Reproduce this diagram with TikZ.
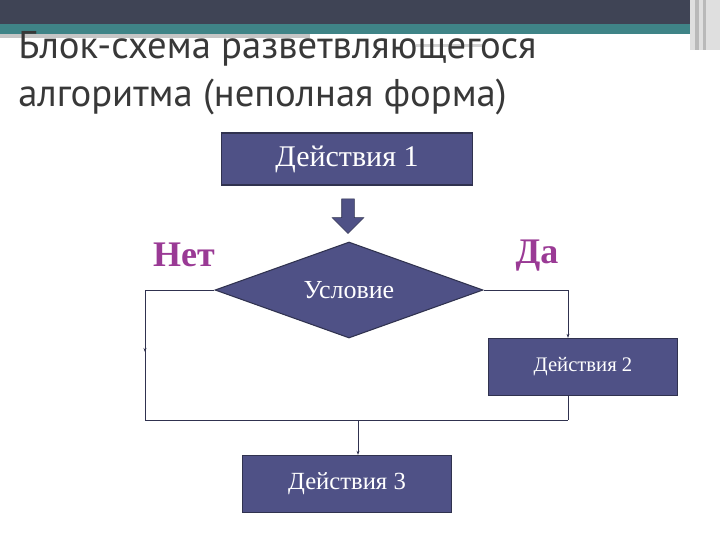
\documentclass[tikz,border=0pt]{standalone}
\usepackage{fontspec}
\setmainfont{Liberation Serif}
\newfontfamily\titlefont{PT Sans}
\usetikzlibrary{shapes.geometric,shapes.arrows,arrows.meta}
\definecolor{boxblue}{HTML}{4F5186}
\definecolor{boxedge}{HTML}{30324F}
\definecolor{lbl}{HTML}{9A3A95}
\definecolor{hdark}{HTML}{3F4455}
\definecolor{hteal}{HTML}{3F8487}
\begin{document}
\begin{tikzpicture}[x=0.75pt,y=-0.75pt]
		\useasboundingbox (0,0) rectangle (720,540);
		% header bands
		\fill[hdark] (0,0) rectangle (700,24);
		\fill[hteal] (0,24) rectangle (700,34);
		\fill[gray!45] (0,34) rectangle (310,38);
		\fill[gray!35] (416,44) rectangle (485,47);
		\fill[gray!25] (690,0) rectangle (720,50);
		\fill[gray!55] (695,0) rectangle (699,50);
		\fill[gray!55] (703,0) rectangle (706,50);
		\node (title)[anchor=north west, align=left, text=black!78, font=\titlefont\fontsize{29}{36}\selectfont, inner sep=0pt] at (18,31) {Блок-схема разветвляющегося\\алгоритма (неполная форма)};
		\begin{scope}[every node/.style={fill=boxblue, draw=boxedge, thick, text=white, inner sep=0pt}]
			\node (A1)[minimum width=188pt, minimum height=39pt, font=\fontsize{22.5}{26}\selectfont] at (347,159) {Действия 1};
			\node (C)[diamond, shape aspect=2.8, minimum width=201pt, minimum height=72pt, font=\fontsize{19.5}{22}\selectfont] at (349,290) {Условие};
			\node (A2)[minimum width=142pt, minimum height=43pt, font=\fontsize{15.5}{18}\selectfont] at (583,367) {Действия 2};
			\node (A3)[minimum width=157pt, minimum height=43pt, font=\fontsize{18.5}{22}\selectfont] at (347,484) {Действия 3};
		\end{scope}
		\node (arr)[single arrow, rotate=-90, fill=boxblue, draw=boxedge, minimum height=26pt, minimum width=18pt, inner xsep=0pt, inner ysep=4.5pt] at (348,213) {};
		\begin{scope}[every node/.style={text=lbl, font=\bfseries\fontsize{27}{30}\selectfont}]
			\node (no) at (184,255) {Нет};
			\node (yes) at (537,256) {Да};
		\end{scope}
		\coordinate (nl) at (145,290);
		\coordinate (ml) at (145,352);
		\coordinate (nb) at (145,420);
		\coordinate (yr) at (568,290);
		\coordinate (jn) at (568,420);
		\coordinate (mj) at (358,420);
		\begin{scope}[every path/.style={draw=boxedge, thin}]
			\path (C.west) -- (nl) -- (ml);
			\path [-{Stealth[length=3pt]}] (nl) -- (ml);
			\path (ml) -- (nb) -- (jn);
			\path [-{Stealth[length=3pt]}] (C.east) -- (yr) -- (A2.north -| yr);
			\path (A2.south -| jn) -- (jn);
			\path [-{Stealth[length=3pt]}, semithick] (mj) -- (A3.north -| mj);
		\end{scope}
	\end{tikzpicture}
\end{document}
